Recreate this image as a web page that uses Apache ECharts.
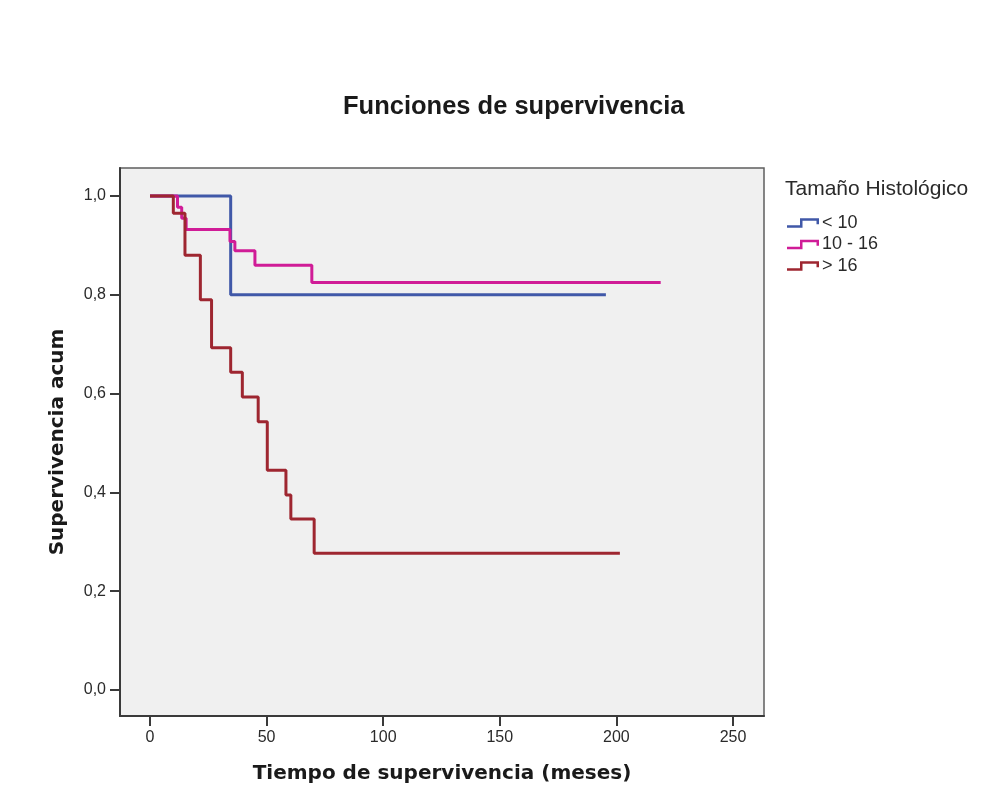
<!DOCTYPE html>
<html>
<head>
<meta charset="utf-8">
<title>Funciones de supervivencia</title>
<script src="https://cdn.jsdelivr.net/npm/echarts@6/dist/echarts.min.js"></script>
<style>
  html, body { margin: 0; padding: 0; background: #fff; }
  #chart { width: 1007px; height: 812px; }
</style>
</head>
<body>
<div id="chart"></div>
<script>
// tiempos (meses) y supervivencia acumulada
const menor10Tiempo = [0, 34.6, 195.5]
const menor10Surv = [1, 0.8, 0.8]

const medio10a16Tiempo = [0, 11.8, 13.6, 15.5, 34.3, 36.4, 45, 69.4, 219]
const medio10a16Surv = [1, 0.977, 0.955, 0.932, 0.908, 0.889, 0.860, 0.825, 0.825]

const mayor16Tiempo = [0, 10, 15, 21.6, 26.4, 34.6, 39.6, 46.4, 50.3, 58.3, 60.4, 70.4, 201.5]
const mayor16Surv = [1, 0.965, 0.88, 0.79, 0.693, 0.643, 0.593, 0.543, 0.445, 0.395, 0.346, 0.277, 0.277]

const grupos = ['< 10', '10 - 16', '> 16']
const xTicks = [0, 50, 100, 150, 200, 250]
const yTicks = [0, 0.2, 0.4, 0.6, 0.8, 1.0]

function pares (t, s) {
  let out = []
  for (let i = 0; i < t.length; i++) {
    out.push([t[i], s[i]])
  }
  return out
}

let myChart = echarts.init(document.getElementById('chart'))

// icono escalonado de la leyenda
let iconoPaso = 'path://M0,7 L13,7 L13,0 L32,0 L32,6 L29.5,6 L29.5,2.5 L15.5,2.5 L15.5,9.5 L0,9.5 Z'

let option = {
  animation: false,
  backgroundColor: '#ffffff',
  title: {
    text: 'Funciones de supervivencia',
    left: 338,
    top: 89,
    textStyle: {
      fontFamily: 'Liberation Sans',
      fontWeight: 'bold',
      fontSize: 25.5,
      color: '#1a1a1a'
    }
  },
  graphic: [{
    type: 'text',
    left: 785,
    top: 179,
    style: {
      text: 'Tamaño Histológico',
      font: '21px "Liberation Sans"',
      fill: '#2a2a2a'
    }
  }],
  legend: {
    orient: 'vertical',
    left: 782,
    top: 209,
    itemGap: 3.5,
    itemWidth: 32,
    itemHeight: 9.5,
    icon: iconoPaso,
    itemStyle: { borderWidth: 0 },
    textStyle: {
      fontFamily: 'Liberation Sans',
      fontSize: 18,
      color: '#2a2a2a',
      padding: [0, 0, 0, -2]
    },
    data: grupos
  },
  grid: {
    left: 120,
    top: 168,
    width: 644,
    height: 548,
    show: true,
    backgroundColor: '#f0f0f0',
    borderColor: '#5e5e5e',
    borderWidth: 1.5,
    containLabel: false
  },
  xAxis: {
    type: 'value',
    min: -12.86,
    max: 263.3,
    name: 'Tiempo de supervivencia (meses)',
    nameLocation: 'middle',
    nameGap: 48,
    nameTextStyle: {
      fontFamily: 'DejaVu Sans',
      fontWeight: 'bold',
      fontSize: 20,
      color: '#1a1a1a'
    },
    axisLine: { onZero: false, lineStyle: { color: '#3a3a3a', width: 2 } },
    axisTick: { show: true, length: 10, customValues: xTicks, lineStyle: { color: '#3a3a3a', width: 2 } },
    axisLabel: {
      customValues: xTicks,
      margin: 14,
      fontFamily: 'Liberation Sans',
      fontSize: 16,
      color: '#2a2a2a'
    },
    splitLine: { show: false }
  },
  yAxis: {
    type: 'value',
    min: -0.0526,
    max: 1.0567,
    name: 'Supervivencia acum',
    nameLocation: 'middle',
    nameGap: 52,
    nameTextStyle: {
      fontFamily: 'DejaVu Sans',
      fontWeight: 'bold',
      fontSize: 20,
      color: '#1a1a1a'
    },
    axisLine: { onZero: false, lineStyle: { color: '#3a3a3a', width: 2 } },
    axisTick: { show: true, length: 10, customValues: yTicks, lineStyle: { color: '#3a3a3a', width: 2 } },
    axisLabel: {
      customValues: yTicks,
      margin: 14,
      fontFamily: 'Liberation Sans',
      fontSize: 16,
      color: '#2a2a2a',
      formatter: function (v) {
        return v.toFixed(1).replace('.', ',')
      }
    },
    splitLine: { show: false }
  },
  series: [{
    name: grupos[0],
    type: 'line',
    step: 'end',
    showSymbol: false,
    symbol: 'none',
    color: '#4058a8',
    lineStyle: { width: 3 },
    data: pares(menor10Tiempo, menor10Surv)
  }, {
    name: grupos[1],
    type: 'line',
    step: 'end',
    showSymbol: false,
    symbol: 'none',
    color: '#d01c97',
    lineStyle: { width: 3 },
    data: pares(medio10a16Tiempo, medio10a16Surv)
  }, {
    name: grupos[2],
    type: 'line',
    step: 'end',
    showSymbol: false,
    symbol: 'none',
    color: '#9e2630',
    lineStyle: { width: 3 },
    data: pares(mayor16Tiempo, mayor16Surv)
  }]
}
myChart.setOption(option)
</script>
</body>
</html>
